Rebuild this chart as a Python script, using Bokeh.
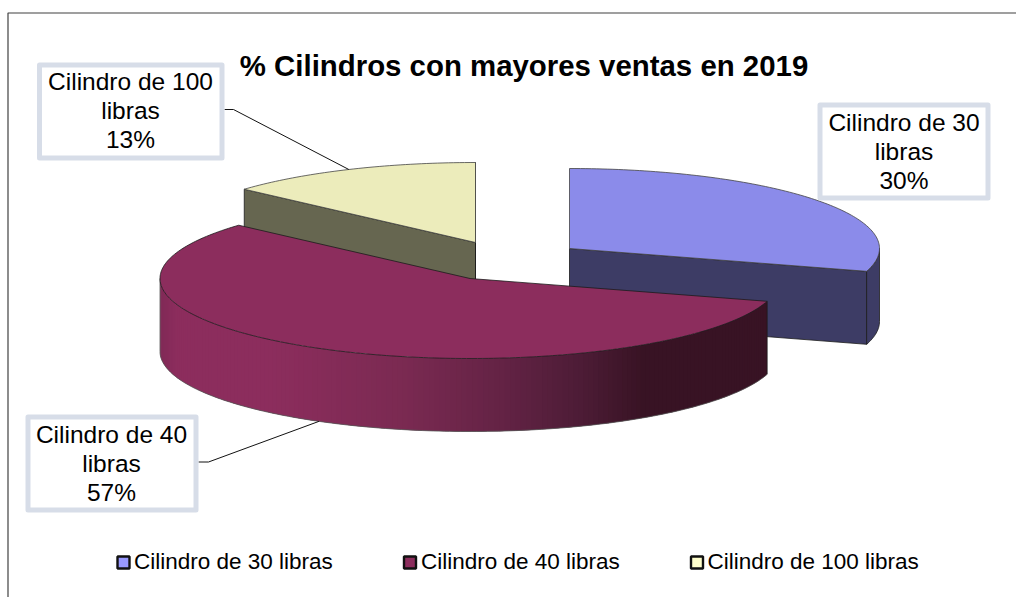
import math
from bokeh.plotting import figure
from bokeh.models import Range1d
from bokeh.core.properties import value
from bokeh.embed import file_html
from bokeh.resources import INLINE

# ---- data ----
title_text = "% Cilindros con mayores ventas en 2019"
categories = ["Cilindro de 30 libras", "Cilindro de 40 libras", "Cilindro de 100 libras"]
shares = [29.6, 57.0, 13.4]          # labels round them
label_lines = [["Cilindro de 30", "libras"], ["Cilindro de 40", "libras"], ["Cilindro de 100", "libras"]]

# ---- styles / layout ----
W, H = 1016, 597
FONT = "Liberation Sans"
top_colors = ["#8b8bea", "#8c2d5d", "#ececbb"]
side_colors = ["#3d3c65", "#8c2d5d", "#666650"]
legend_colors = ["#9999ff", "#8c2d5d", "#ffffcc"]
edge = "#1c1c1c"
box_color = "#d7dde8"
centers = [(569, 248), (469.5, 278), (475, 242)]
RX, RY, DEPTH = 310, 80, 73
boxes = [(819.5, 104.5, 987.5, 197.5), (27.5, 416.5, 195.5, 509.5), (39, 64.5, 221.5, 157.5)]
text_x = [903.5, 111, 130]
first_base = [131, 443, 90]
legend_x = [117, 403.5, 690.5]
legend_text_x = [133.5, 420.5, 707]
BASE_SHIFT = 0.35   # the SVG text sits this many font sizes below the requested baseline
gradient = [(159, (0x80, 0x2a, 0x56)), (176, (0x8c, 0x2d, 0x5d)), (270, (0x8c, 0x2d, 0x5d)), (400, (0x7b, 0x2a, 0x52)),
            (500, (0x64, 0x23, 0x45)), (580, (0x4d, 0x1c, 0x36)), (643, (0x38, 0x13, 0x24)), (770, (0x38, 0x13, 0x24))]

p = figure(width=W, height=H, x_range=Range1d(0, W), y_range=Range1d(H, 0), toolbar_location=None,
           output_backend="svg", min_border=0, outline_line_color=None, background_fill_color="white",
           border_fill_color="white", x_axis_location=None, y_axis_location=None)
p.grid.visible = False
p.styles = {"position": "absolute", "left": "0px", "top": "0px"}

# chart frame (only top and left edges show in the picture)
p.line([7.5, 7.5, W], [H, 12.5, 12.5], line_color="#404040", line_width=1.2)


def pt(c, deg, dy=0):
    t = math.radians(deg)
    return c[0] + RX * math.sin(t), c[1] - RY * math.cos(t) + dy


def arc(c, a, b, dy=0):
    n = max(2, int(abs(b - a)))
    return [pt(c, a + (b - a) * i / n, dy) for i in range(n + 1)]


def xy(points):
    return [q[0] for q in points], [q[1] for q in points]


def grad(x):
    for (x0, c0), (x1, c1) in zip(gradient, gradient[1:]):
        if x <= x1:
            f = max(0, (x - x0) / (x1 - x0))
            return "#%02x%02x%02x" % tuple(round(u + (v - u) * f) for u, v in zip(c0, c1))
    return "#381324"


def label(x, y, s, size, align="center", style="normal"):
    p.text(x=[x], y=[y - BASE_SHIFT * size], text=[s], text_font=value(FONT), text_font_size="%.1fpx" % size,
           text_font_style=style, text_align=align, text_baseline="alphabetic", text_color="#000000")


bounds = []
acc = 0
for s in shares:
    bounds.append((acc * 3.6, (acc + s) * 3.6))
    acc += s


def draw_cut(c, deg, color):
    a = pt(c, deg)
    xs = [c[0], a[0], a[0], c[0]]
    ys = [c[1], a[1], a[1] + DEPTH, c[1] + DEPTH]
    p.patch(xs, ys, fill_color=color, line_color=edge, line_width=0.8)


def draw_top(i):
    c = centers[i]
    a, b = bounds[i]
    pts = [c] + arc(c, a, b)
    x, y = xy(pts)
    p.patch(x, y, fill_color=top_colors[i], line_color=None)
    p.line(x + [x[0]], y + [y[0]], line_color=edge if i == 1 else "#444444", line_width=0.8)


# slice 3 (back-left) first
draw_cut(centers[2], bounds[2][0], side_colors[2])
draw_cut(centers[2], 360, side_colors[2])
draw_top(2)

# slice 1
c = centers[0]
a, b = bounds[0]
draw_cut(c, b, side_colors[0])
rim = arc(c, 90, b)
low = arc(c, b, 90, DEPTH)
x, y = xy(rim + low)
p.patch(x, y, fill_color=side_colors[0], line_color=edge, line_width=0.8)
draw_top(0)

# slice 2: front rim with left-to-right shading
c = centers[1]
a, b = bounds[1]
end = 270
step = 1.0
xs_all, ys_all, cols = [], [], []
t = a
while t < end:
    t2 = min(end, t + 2 * step)
    up = arc(c, t, t2)
    dn = arc(c, t2, t, DEPTH)
    x, y = xy(up + dn)
    xs_all.append(x)
    ys_all.append(y)
    cols.append(grad(pt(c, t + step / 2)[0]))
    t += step
p.patches(xs_all, ys_all, fill_color=cols, line_color=None)
x, y = xy(arc(c, a, end, DEPTH))
p.line(x, y, line_color="#555555", line_width=0.8)
q = pt(c, a)
p.line([q[0], q[0]], [q[1], q[1] + DEPTH], line_color=edge, line_width=0.8)
q = pt(c, end)
p.line([q[0], q[0]], [q[1], q[1] + DEPTH], line_color="#555555", line_width=0.8)
draw_top(1)

# leader lines end at each slice's mid-angle on the rim
m = sum(bounds[2]) / 2
q = pt(centers[2], m)
p.line([224, 233, q[0]], [109, 109, q[1]], line_color="#111111", line_width=1)
m = sum(bounds[1]) / 2
q = pt(centers[1], m, DEPTH)
p.line([198, 208, q[0]], [461.5, 461.5, q[1]], line_color="#111111", line_width=1)

# data label boxes
for i, bx in enumerate(boxes):
    p.quad(left=[bx[0]], right=[bx[2]], top=[bx[1]], bottom=[bx[3]], fill_color="white",
           line_color=box_color, line_width=5, line_join="round")
    lines = label_lines[i] + ["%d%%" % round(shares[i])]
    for k, s in enumerate(lines):
        label(text_x[i], first_base[i] + 29 * k, s, 24.5)

# title
label(523.5, 75, title_text, 29.4, style="bold")

# legend
for i, name in enumerate(categories):
    p.quad(left=[legend_x[i]], right=[legend_x[i] + 12], top=[556], bottom=[568], fill_color=legend_colors[i],
           line_color="#111111", line_width=2.4)
    label(legend_text_x[i], 569, name, 22.5, align="left")

open("out.html", "w").write(file_html(p, INLINE))
